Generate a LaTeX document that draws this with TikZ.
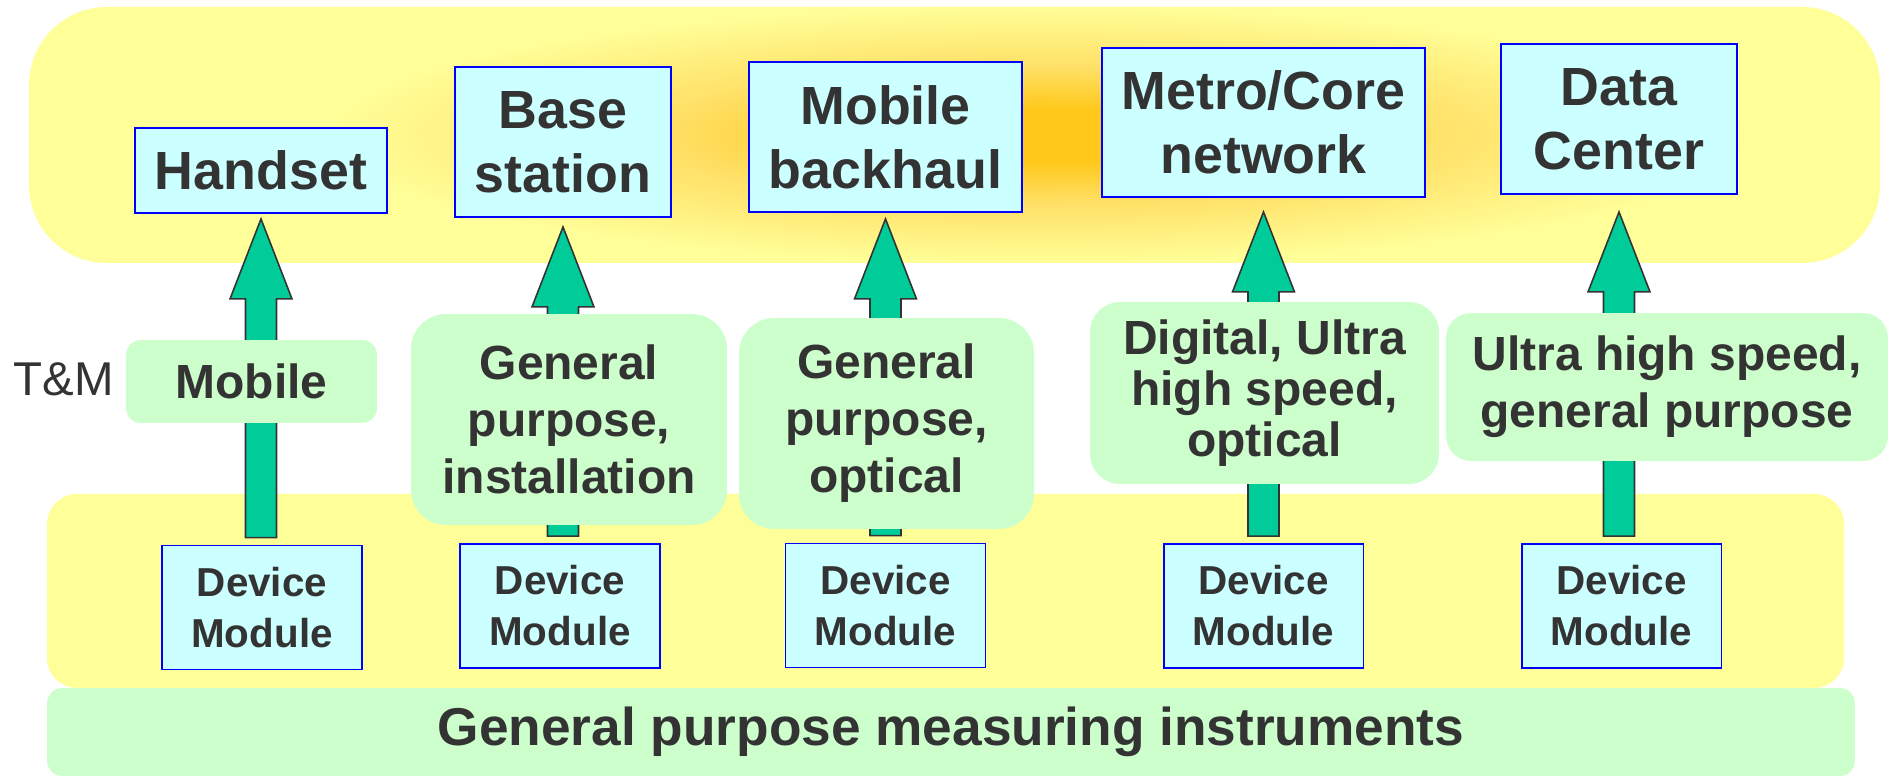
\documentclass[tikz,border=0pt]{standalone}
\usepackage{fontspec}
\setmainfont{Liberation Sans}
\usetikzlibrary{calc}
\definecolor{bandyellow}{HTML}{FFFF99}
\definecolor{glowcore}{HTML}{FFC81A}
\definecolor{glowmid}{HTML}{FFE066}
\definecolor{boxcyan}{HTML}{CCFFFF}
\definecolor{boxblue}{HTML}{0000FF}
\definecolor{labelgreen}{HTML}{CCFFCC}
\definecolor{arrowgreen}{HTML}{00CC99}
\definecolor{arrowedge}{HTML}{333333}
\definecolor{txtgray}{HTML}{333333}
\pgfdeclareradialshading{glow}{\pgfpoint{0bp}{0bp}}{color(0bp)=(glowcore); color(5bp)=(glowcore); color(13bp)=(glowmid); color(25bp)=(bandyellow); color(50bp)=(bandyellow)}
\begin{document}
\begin{tikzpicture}[
        x=0.02cm, y=-0.02cm,
        text=txtgray,
        font=\bfseries
    ]
    \tikzset{
        topbox/.style = {rectangle, draw=boxblue, line width=1.1pt, fill=boxcyan, align=center, inner sep=0pt, font=\fontsize{30.6}{36.3}\selectfont\bfseries},
        devbox/.style = {rectangle, draw=boxblue, line width=1.1pt, fill=boxcyan, align=center, inner sep=0pt, minimum width=4cm, minimum height=2.48cm, font=\fontsize{23}{29}\selectfont\bfseries},
        tmbox/.style = {rectangle, fill=labelgreen, align=center, inner sep=0pt, font=\fontsize{27.3}{32.4}\selectfont\bfseries},
        blockarrow/.style = {fill=arrowgreen, draw=arrowedge, line width=0.9pt, line join=miter},
        band/.style = {fill=bandyellow},
    }
    \useasboundingbox (0,0) rectangle (1896,776);
    %
    \fill[band, rounded corners=1.56cm] (29,7) rectangle (1880,263);
    \begin{scope}
        \clip[rounded corners=1.56cm] (29,7) rectangle (1880,263);
        \shade[shading=glow] (1040,135) ellipse [x radius=14.4cm, y radius=2.6cm];
    \end{scope}
    \fill[band, rounded corners=0.6cm] (47,494) rectangle (1844,688);
    \node[tmbox, rounded corners=0.3cm, minimum width=36.16cm, minimum height=1.76cm, font=\fontsize{30.3}{36}\selectfont\bfseries] (gpmi) at (951,732) {General purpose measuring instruments};
    %
    \node[topbox, minimum width=5.04cm, minimum height=1.70cm] (handset) at (261,170.5) {Handset};
    \node[topbox, minimum width=4.32cm, minimum height=3.00cm] (base) at (563,142) {Base\\station};
    \node[topbox, minimum width=5.46cm, minimum height=3.00cm] (backhaul) at (885.5,137) {Mobile\\backhaul};
    \node[topbox, minimum width=6.46cm, minimum height=2.98cm] (metro) at (1263.5,122.5) {Metro/Core\\network};
    \node[topbox, minimum width=4.72cm, minimum height=3.00cm] (datacenter) at (1619,119) {Data\\Center};
    %
    \node[devbox] (dm1) at (262,607.5) {Device\\Module};
    \node[devbox] (dm2) at (560,606) {Device\\Module};
    \node[devbox] (dm3) at (885.5,605.5) {Device\\Module};
    \node[devbox] (dm4) at (1263.5,606) {Device\\Module};
    \node[devbox] (dm5) at (1621.5,606) {Device\\Module};
    %
    \foreach \boxa/\boxb/\gapy in {handset/dm1/5, base/dm2/9, backhaul/dm3/6, metro/dm4/14, datacenter/dm5/17} {
        \coordinate (tip) at ($(\boxa.south)+(0,\gapy)$);
        \coordinate (foot) at (tip |- \boxb.north);
        \draw[blockarrow] (tip) -- ++(31,80) -- ++(-15.5,0) -- ($(foot)+(15.5,-7)$)
            -- ($(foot)+(-15.5,-7)$) -- ($(tip)+(-15.5,80)$) -- ++(-15.5,0) -- cycle;
    }
    %
    \node[tmbox, rounded corners=0.3cm, minimum width=5.02cm, minimum height=1.66cm] (mobile) at (251.5,381.5) {Mobile};
    \node[tmbox, rounded corners=0.7cm, minimum width=6.32cm, minimum height=4.22cm] (gpinst) at (569,419.5) {General\\purpose,\\installation};
    \node[tmbox, rounded corners=0.7cm, minimum width=5.90cm, minimum height=4.22cm] (gpopt) at (886.5,423.5) {General\\purpose,\\optical};
    \node[tmbox, rounded corners=0.6cm, minimum width=6.98cm, minimum height=3.64cm, font=\fontsize{27.3}{28.8}\selectfont\bfseries] (digital) at (1264.5,393) {Digital, Ultra\\high speed,\\optical};
    \node[tmbox, rounded corners=0.5cm, minimum width=8.84cm, minimum height=2.96cm] (ultra) at (1667,387) {Ultra high speed,\\general purpose};
    \node[font=\fontsize{27}{32}\selectfont] (tm) at (63.5,379) {T\&M};
\end{tikzpicture}
\end{document}
